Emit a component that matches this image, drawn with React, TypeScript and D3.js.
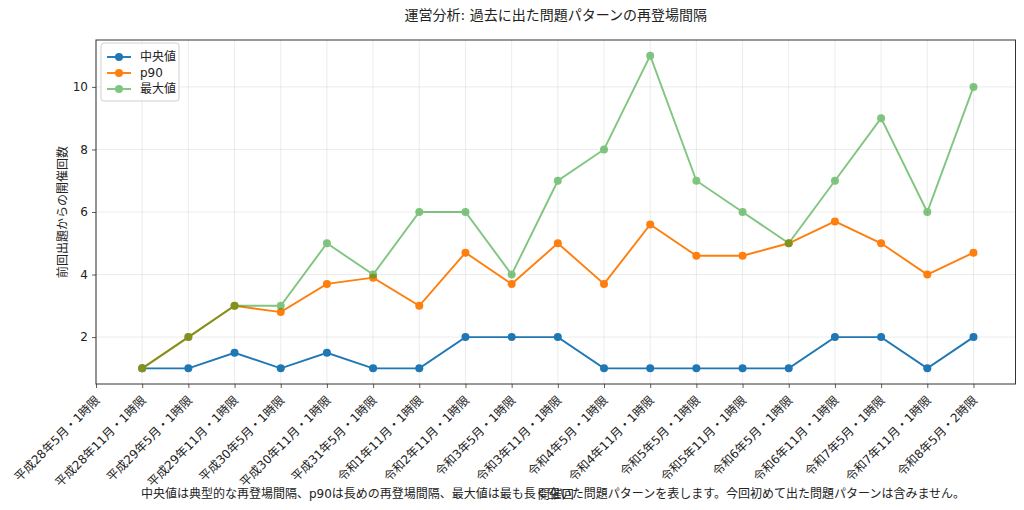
import { useEffect, useRef } from 'react';
import { axisBottom, axisLeft, line, scaleLinear, select } from 'd3';

const sessions = [
  '平成28年5月・1時限',
  '平成28年11月・1時限',
  '平成29年5月・1時限',
  '平成29年11月・1時限',
  '平成30年5月・1時限',
  '平成30年11月・1時限',
  '平成31年5月・1時限',
  '令和1年11月・1時限',
  '令和2年11月・1時限',
  '令和3年5月・1時限',
  '令和3年11月・1時限',
  '令和4年5月・1時限',
  '令和4年11月・1時限',
  '令和5年5月・1時限',
  '令和5年11月・1時限',
  '令和6年5月・1時限',
  '令和6年11月・1時限',
  '令和7年5月・1時限',
  '令和7年11月・1時限',
  '令和8年5月・2時限',
];

// first session has no previous appearance -> null
const medianVals = [null, 1, 1, 1.5, 1, 1.5, 1, 1, 2, 2, 2, 1, 1, 1, 1, 1, 2, 2, 1, 2];
const p90Vals = [null, 1, 2, 3, 2.8, 3.7, 3.9, 3, 4.7, 3.7, 5, 3.7, 5.6, 4.6, 4.6, 5, 5.7, 5, 4, 4.7];
const maxVals = [null, 1, 2, 3, 3, 5, 4, 6, 6, 4, 7, 8, 11, 7, 6, 5, 7, 9, 6, 10];
const yTicks = [2, 4, 6, 8, 10];

const seriesList = [
  { name: '中央値', values: medianVals, color: '#1f77b4', opacity: 1 },
  { name: 'p90', values: p90Vals, color: '#ff7f0e', opacity: 1 },
  { name: '最大値', values: maxVals, color: '#2ca02c', opacity: 0.6 },
];

const FONT = '"DejaVu Sans", "Noto Sans CJK JP", sans-serif';

export default function App() {
  const ref = useRef<SVGSVGElement>(null);

  useEffect(() => {
    const svgEl = ref.current;
    if (!svgEl) return;
    const svg = select(svgEl);
    svg.selectAll('*').remove();

    const left = 96,
      right = 1015.5,
      top = 40,
      bottom = 384;

    const x = scaleLinear().domain([0, 19.91]).range([left, right]);
    const y = scaleLinear().domain([0.5, 11.5]).range([bottom, top]);

    svg.attr('font-family', FONT);

    // grid
    const grid = svg.append('g').attr('stroke', '#b0b0b0').attr('stroke-opacity', 0.3).attr('stroke-width', 0.8);
    grid
      .selectAll('line.v')
      .data(sessions.map((_, i) => i))
      .join('line')
      .attr('x1', (d) => x(d))
      .attr('x2', (d) => x(d))
      .attr('y1', top)
      .attr('y2', bottom);
    grid
      .selectAll('line.h')
      .data(yTicks)
      .join('line')
      .attr('x1', left)
      .attr('x2', right)
      .attr('y1', (d) => y(d))
      .attr('y2', (d) => y(d));

    // axes
    const xAxis = svg
      .append('g')
      .attr('transform', `translate(0,${bottom})`)
      .call(
        axisBottom(x)
          .tickValues(sessions.map((_, i) => i))
          .tickFormat((d) => sessions[d as number])
          .tickSize(4)
          .tickSizeOuter(0),
      );
    xAxis.select('.domain').remove();
    xAxis.selectAll('.tick line').attr('stroke', '#333').attr('stroke-width', 0.8);
    xAxis
      .selectAll('.tick text')
      .attr('font-family', FONT)
      .attr('font-size', 12)
      .attr('fill', '#222')
      .attr('text-anchor', 'end')
      .attr('y', 0)
      .attr('dy', 0)
      .attr('transform', 'translate(4,17) rotate(-45)');

    const yAxis = svg
      .append('g')
      .attr('transform', `translate(${left},0)`)
      .call(axisLeft(y).tickValues(yTicks).tickSize(4).tickSizeOuter(0));
    yAxis.select('.domain').remove();
    yAxis.selectAll('.tick line').attr('stroke', '#333').attr('stroke-width', 0.8);
    yAxis
      .selectAll('.tick text')
      .attr('font-family', FONT)
      .attr('font-size', 12)
      .attr('fill', '#222')
      .attr('x', -8);

    // frame
    svg
      .append('rect')
      .attr('x', left)
      .attr('y', top)
      .attr('width', right - left)
      .attr('height', bottom - top)
      .attr('fill', 'none')
      .attr('stroke', '#333')
      .attr('stroke-width', 1);

    // series
    const lineGen = line<number | null>()
      .defined((d) => d != null)
      .x((_, i) => x(i))
      .y((d) => y(d as number));

    seriesList.forEach((s) => {
      const g = svg.append('g').attr('opacity', s.opacity);
      g.append('path')
        .attr('d', lineGen(s.values))
        .attr('fill', 'none')
        .attr('stroke', s.color)
        .attr('stroke-width', 1.9);
      g.selectAll('circle')
        .data(s.values.map((v, i) => ({ v, i })).filter((d) => d.v != null))
        .join('circle')
        .attr('cx', (d) => x(d.i))
        .attr('cy', (d) => y(d.v as number))
        .attr('r', 4)
        .attr('fill', s.color);
    });

    // legend
    const lg = svg.append('g').attr('transform', 'translate(101,43)');
    lg.append('rect')
      .attr('width', 78)
      .attr('height', 58)
      .attr('rx', 3)
      .attr('fill', 'white')
      .attr('fill-opacity', 0.8)
      .attr('stroke', '#d0d0d0');
    seriesList.forEach((s, i) => {
      const cy = 14 + i * 16;
      const row = lg.append('g').attr('opacity', s.opacity);
      row.append('line').attr('x1', 6).attr('x2', 30).attr('y1', cy).attr('y2', cy).attr('stroke', s.color).attr('stroke-width', 1.9);
      row.append('circle').attr('cx', 18).attr('cy', cy).attr('r', 4).attr('fill', s.color);
      lg.append('text')
        .attr('x', 39)
        .attr('y', cy)
        .attr('dy', '0.36em')
        .attr('font-size', 12)
        .attr('fill', '#222')
        .text(s.name);
    });

    // title & labels
    svg
      .append('text')
      .attr('x', (left + right) / 2)
      .attr('y', 20)
      .attr('text-anchor', 'middle')
      .attr('font-size', 14)
      .attr('fill', '#222')
      .text('運営分析: 過去に出た問題パターンの再登場間隔');

    svg
      .append('text')
      .attr('transform', `translate(67,${(top + bottom) / 2}) rotate(-90)`)
      .attr('text-anchor', 'middle')
      .attr('font-size', 12)
      .attr('fill', '#222')
      .text('前回出題からの開催回数');

    svg
      .append('text')
      .attr('x', (left + right) / 2)
      .attr('y', 499)
      .attr('text-anchor', 'middle')
      .attr('font-size', 12)
      .attr('fill', '#222')
      .text('開催回');

    svg
      .append('text')
      .attr('x', 553)
      .attr('y', 498)
      .attr('text-anchor', 'middle')
      .attr('font-size', 12)
      .attr('fill', '#222')
      .text('中央値は典型的な再登場間隔、p90は長めの再登場間隔、最大値は最も長く空いた問題パターンを表します。今回初めて出た問題パターンは含みません。');
  }, []);

  return (
    <svg
      ref={ref}
      width={1024}
      height={510}
      style={{ position: 'absolute', left: 0, top: 0, background: 'white' }}
    />
  );
}
